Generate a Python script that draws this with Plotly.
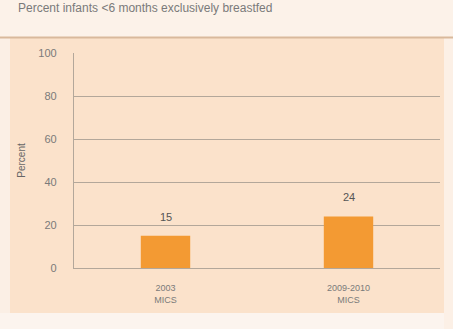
import plotly.graph_objects as go

categories = ["2003<br>MICS", "2009-2010<br>MICS"]
values = [15, 24]
y_ticks = [0, 20, 40, 60, 80, 100]
title_text = "Percent infants <6 months exclusively breastfed"

W, H = 453, 329
L, R, T, B = 74, 13, 53, 61
PW, PH = W - L - R, H - T - B


def px(x):
    return (x - L) / PW


def py(y):
    return (H - B - y) / PH


fig = go.Figure()
fig.add_trace(go.Bar(
    x=categories, y=values,
    marker=dict(color="#F39A33", line=dict(width=0)),
    width=0.27,
))

label_annotations = [
    dict(x=c, y=v, xref="x", yref="y", text=str(v), showarrow=False,
         yanchor="bottom", yshift=11,
         font=dict(family="Liberation Sans", size=11, color="#555555"))
    for c, v in zip(categories, values)
]

fig.update_layout(
    width=W, height=H,
    margin=dict(l=L, r=R, t=T, b=B),
    paper_bgcolor="#FBE2CB",
    plot_bgcolor="#FBE2CB",
    showlegend=False,
    font=dict(family="Liberation Sans", color="#777777"),
    shapes=[
        dict(type="rect", xref="paper", yref="paper", x0=px(0), x1=px(W), y0=py(37), y1=py(0),
             fillcolor="#FCF2E9", line=dict(width=0), layer="below"),
        dict(type="rect", xref="paper", yref="paper", x0=px(0), x1=px(10), y0=py(H), y1=py(37),
             fillcolor="#FBEFE5", line=dict(width=0), layer="below"),
        dict(type="rect", xref="paper", yref="paper", x0=px(0), x1=px(W), y0=py(H), y1=py(313),
             fillcolor="#FCF4EE", line=dict(width=0), layer="below"),
        dict(type="rect", xref="paper", yref="paper", x0=px(444), x1=px(W), y0=py(H), y1=py(37),
             fillcolor="#FCF0E6", line=dict(width=0), layer="below"),
        dict(type="line", xref="paper", yref="paper", x0=px(0), x1=px(W), y0=py(37.5), y1=py(37.5),
             line=dict(color="#D9B99C", width=2)),
    ],
    annotations=[
        dict(text=title_text, xref="paper", yref="paper", x=px(16), y=py(8),
             xanchor="left", yanchor="middle", showarrow=False,
             font=dict(family="Liberation Sans", size=12, color="#7A7A7A")),
    ] + label_annotations,
)
fig.update_yaxes(
    range=[0, 100], tickvals=y_ticks, showgrid=True, gridcolor="#B3A79A", gridwidth=1.3,
    showline=True, linecolor="#B3A79A", linewidth=1.3, ticks="",
    tickfont=dict(size=11, color="#7A7A7A"), ticklabelstandoff=14,
    title=dict(text="Percent", font=dict(size=10, color="#666666"), standoff=10),
    zeroline=False,
)
fig.update_xaxes(
    showline=True, linecolor="#B3A79A", linewidth=1.3, ticks="",
    tickfont=dict(size=9, color="#7A7A7A"), ticklabelstandoff=11, showgrid=False,
)

fig.write_html("out.html", config={"displayModeBar": False},
               post_script="document.body.style.margin='0';")
